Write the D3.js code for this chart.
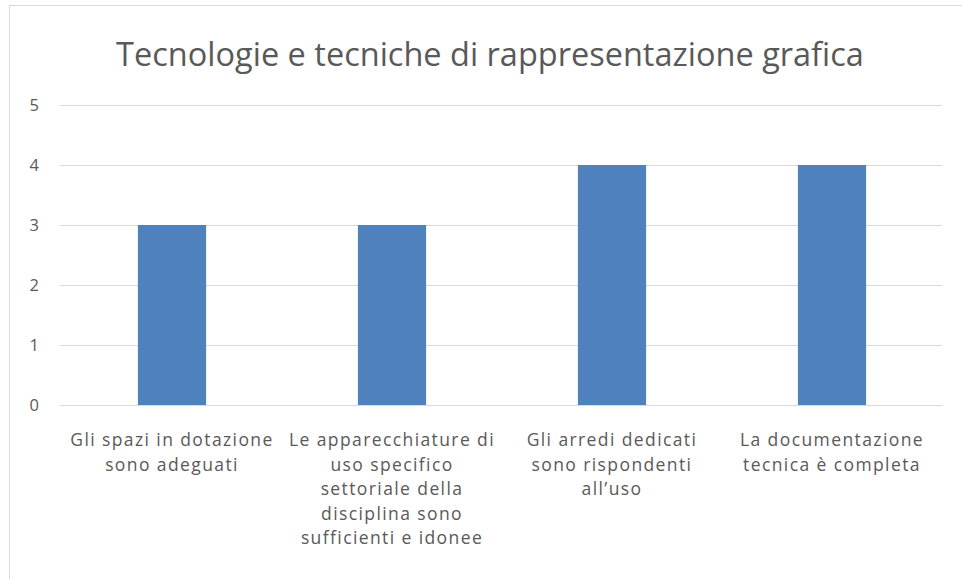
<!DOCTYPE html>
<html><head><meta charset="utf-8">
<script src="https://cdn.jsdelivr.net/npm/d3@7/dist/d3.min.js"></script>
<style>body{margin:0;background:#fff}svg{display:block}</style>
</head><body>
<svg id="c" width="962" height="579"></svg>
<script>
const title = "Tecnologie e tecniche di rappresentazione grafica";
const categories = [
  ["Gli spazi in dotazione","sono adeguati"],
  ["Le apparecchiature di","uso specifico","settoriale della","disciplina sono","sufficienti e idonee"],
  ["Gli arredi dedicati","sono rispondenti","all\u2019uso"],
  ["La documentazione","tecnica \u00e8 completa"]
];
const values = [3, 3, 4, 4];
const yTicks = [0, 1, 2, 3, 4, 5];

const svg = d3.select("#c");
const font = "'Open Sans', sans-serif";
svg.append("rect").attr("x", 9.5).attr("y", 5.5).attr("width", 970).attr("height", 600)
  .attr("fill", "#fff").attr("stroke", "#d9d9d9");

const x = d3.scaleBand().domain(d3.range(categories.length)).range([62, 942])
  .paddingInner(0.69).paddingOuter(0.345);
const y = d3.scaleLinear().domain([0, 5]).range([405, 105]);

svg.append("text").attr("x", 490).attr("y", 66).attr("text-anchor", "middle")
  .attr("font-family", font).attr("font-size", 32.5).attr("fill", "#595959").text(title);

const yAxis = d3.axisLeft(y).tickValues(yTicks).tickFormat(d3.format("d")).tickSize(-(942 - 60)).tickPadding(21);
const gy = svg.append("g").attr("transform", "translate(60,0)").call(yAxis);
gy.select(".domain").remove();
gy.selectAll(".tick line").attr("stroke", "#d9d9d9");
gy.selectAll(".tick text").attr("font-family", font).attr("font-size", 16.5).attr("fill", "#595959");

svg.append("g").selectAll("rect").data(values).join("rect")
  .attr("x", (d, i) => x(i)).attr("width", x.bandwidth())
  .attr("y", d => y(d)).attr("height", d => y(0) - y(d)).attr("fill", "#4f81bd");

const xAxis = d3.axisBottom(x).tickSize(0).tickFormat("");
const gx = svg.append("g").attr("transform", "translate(0,405)").call(xAxis);
gx.select(".domain").attr("stroke", "#d9d9d9");
gx.selectAll(".tick").each(function(d, i) {
  const t = d3.select(this).append("text").attr("text-anchor", "middle")
    .attr("font-family", font).attr("font-size", 17.5).attr("letter-spacing", 1.4)
    .attr("fill", "#595959");
  categories[i].forEach((line, k) => {
    t.append("tspan").attr("x", 0).attr("y", 41 + k * 24.5).text(line);
  });
});
</script>
</body></html>
